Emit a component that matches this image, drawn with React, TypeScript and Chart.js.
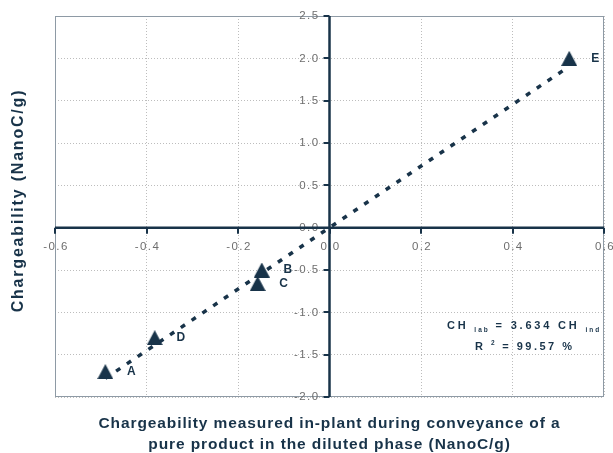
import React, { useEffect, useRef } from 'react';
import { Chart, registerables } from 'chart.js';

Chart.register(...registerables);

// ---- data ----
const pointLabels = ['A', 'B', 'C', 'D', 'E'];
const xValues = [-0.49, -0.148, -0.157, -0.382, 0.524];
const yValues = [-1.7, -0.5, -0.66, -1.3, 2.0];
const trendX = [-0.49, 0.52];
const trendY = [-1.78, 1.89];
const xTickValues = [-0.6, -0.4, -0.2, 0.0, 0.2, 0.4, 0.6];
const yTickValues = [2.5, 2.0, 1.5, 1.0, 0.5, 0.0, -0.5, -1.0, -1.5, -2.0];
const xTitleLines = [
  'Chargeability measured in-plant during conveyance of a',
  'pure product in the diluted phase (NanoC/g)',
];
const yTitle = 'Chargeability (NanoC/g)';
const slopeText = '3.634';
const r2Text = '99.57 %';

const NAVY = '#183349';
const FONT = '"Liberation Sans", Arial, Helvetica, sans-serif';

type Seg = { t: string; size: number; dy: number; ls: number };

function drawSegs(ctx: CanvasRenderingContext2D, segs: Seg[], x: number, baseline: number) {
  let cx = x;
  for (const s of segs) {
    ctx.font = `bold ${s.size}px ${FONT}`;
    (ctx as any).letterSpacing = `${s.ls}px`;
    ctx.textAlign = 'left';
    ctx.textBaseline = 'alphabetic';
    ctx.fillText(s.t, cx, baseline + s.dy);
    cx += ctx.measureText(s.t).width;
  }
}

const decorPlugin = {
  id: 'decor',
  beforeDatasetsDraw(chart: any) {
    const { ctx, chartArea: a, scales } = chart;
    const xs = scales.x;
    const ys = scales.y;
    const x0 = xs.getPixelForValue(0);
    const y0 = ys.getPixelForValue(0);
    ctx.save();
    // plot border
    ctx.strokeStyle = '#8e9aa5';
    ctx.lineWidth = 1;
    ctx.setLineDash([]);
    ctx.strokeRect(a.left + 0.5, a.top + 0.5, a.right - a.left - 1, a.bottom - a.top - 1);

    // tick labels
    ctx.fillStyle = '#6e6e6e';
    ctx.font = `11.5px ${FONT}`;
    (ctx as any).letterSpacing = '1.4px';
    ctx.textAlign = 'center';
    ctx.textBaseline = 'middle';
    for (const v of xTickValues) {
      const px = xs.getPixelForValue(v);
      ctx.fillText(v.toFixed(1), px + 1, y0 + 19);
    }
    ctx.textAlign = 'right';
    for (const v of yTickValues) {
      const py = ys.getPixelForValue(v);
      ctx.fillText(v.toFixed(1), x0 - 10, py);
    }

    // axes
    ctx.strokeStyle = NAVY;
    ctx.lineWidth = 2.5;
    ctx.beginPath();
    ctx.moveTo(a.left, y0);
    ctx.lineTo(a.right, y0);
    ctx.stroke();
    ctx.beginPath();
    ctx.moveTo(x0, a.top);
    ctx.lineTo(x0, a.bottom);
    ctx.stroke();
    ctx.lineWidth = 2;
    for (const v of xTickValues) {
      const px = Math.round(xs.getPixelForValue(v));
      ctx.beginPath();
      ctx.moveTo(px, y0);
      ctx.lineTo(px, y0 + 6);
      ctx.stroke();
    }
    for (const v of yTickValues) {
      const py = Math.round(ys.getPixelForValue(v));
      ctx.beginPath();
      ctx.moveTo(x0 - 6, py);
      ctx.lineTo(x0, py);
      ctx.stroke();
    }
    ctx.restore();
  },
  afterDatasetsDraw(chart: any) {
    const { ctx, chartArea: a } = chart;
    ctx.save();
    ctx.fillStyle = NAVY;
    // point labels
    const meta = chart.getDatasetMeta(0);
    ctx.font = `bold 12px ${FONT}`;
    (ctx as any).letterSpacing = '0px';
    ctx.textAlign = 'center';
    ctx.textBaseline = 'middle';
    meta.data.forEach((el: any, i: number) => {
      ctx.fillText(pointLabels[i], el.x + 26, el.y);
    });

    // equation annotation
    drawSegs(
      ctx,
      [
        { t: 'CH ', size: 11, dy: 0, ls: 2.8 },
        { t: 'lab', size: 6.5, dy: 3, ls: 2 },
        { t: ` = ${slopeText} CH `, size: 11, dy: 0, ls: 2.8 },
        { t: 'ind', size: 6.5, dy: 3, ls: 2 },
      ],
      a.right - 157,
      a.top + 313
    );
    drawSegs(
      ctx,
      [
        { t: 'R ', size: 11, dy: 0, ls: 2.5 },
        { t: '2', size: 6.5, dy: -5, ls: 2 },
        { t: ` = ${r2Text}`, size: 11, dy: 0, ls: 2.5 },
      ],
      a.right - 129,
      a.top + 334
    );

    // axis titles
    const cxMid = (a.left + a.right) / 2;
    ctx.font = `bold 15.5px ${FONT}`;
    (ctx as any).letterSpacing = '0.9px';
    ctx.textAlign = 'center';
    ctx.textBaseline = 'alphabetic';
    ctx.fillText(xTitleLines[0], cxMid, a.bottom + 31);
    ctx.fillText(xTitleLines[1], cxMid, a.bottom + 52);

    ctx.translate(19, (a.top + a.bottom) / 2 - 6);
    ctx.rotate(-Math.PI / 2);
    ctx.textBaseline = 'middle';
    ctx.font = `bold 16px ${FONT}`;
    (ctx as any).letterSpacing = '1.8px';
    ctx.fillText(yTitle, 0, 0);
    ctx.restore();
  },
};

export default function App() {
  const ref = useRef<HTMLCanvasElement>(null);
  useEffect(() => {
    const canvas = ref.current;
    if (!canvas) return;
    const tri = document.createElement('canvas');
    tri.width = 16;
    tri.height = 15;
    const tc = tri.getContext('2d')!;
    tc.fillStyle = NAVY;
    tc.beginPath();
    tc.moveTo(8, 0);
    tc.lineTo(16, 15);
    tc.lineTo(0, 15);
    tc.closePath();
    tc.fill();

    const chart = new Chart(canvas, {
      type: 'scatter',
      data: {
        datasets: [
          {
            label: 'Points',
            data: xValues.map((x, i) => ({ x, y: yValues[i] })),
            pointStyle: tri as any,
            pointRadius: 8,
            backgroundColor: NAVY,
            borderColor: NAVY,
            order: 1,
          },
          {
            label: 'Trend',
            type: 'line',
            data: trendX.map((x, i) => ({ x, y: trendY[i] })),
            showLine: true,
            borderColor: NAVY,
            borderWidth: 3.5,
            borderDash: [5, 8],
            pointRadius: 0,
            fill: false,
            order: 2,
          } as any,
        ],
      },
      options: {
        responsive: false,
        animation: false,
        devicePixelRatio: 1,
        layout: { padding: { left: 55, right: 8, top: 16, bottom: 56 } },
        plugins: { legend: { display: false }, tooltip: { enabled: false } },
        scales: {
          x: {
            type: 'linear',
            min: -0.6,
            max: 0.6,
            afterBuildTicks: (s: any) => {
              s.ticks = xTickValues.map((v) => ({ value: v }));
            },
            ticks: { display: false },
            grid: { color: '#bdbdbd', lineWidth: 1, drawTicks: false },
            border: { display: false, dash: [1, 2] },
          },
          y: {
            type: 'linear',
            min: -2.0,
            max: 2.5,
            afterBuildTicks: (s: any) => {
              s.ticks = yTickValues.map((v) => ({ value: v }));
            },
            ticks: { display: false },
            grid: { color: '#bdbdbd', lineWidth: 1, drawTicks: false },
            border: { display: false, dash: [1, 2] },
          },
        },
      },
      plugins: [decorPlugin],
    });
    return () => chart.destroy();
  }, []);
  return (
    <div style={{ position: 'fixed', left: 0, top: 0, width: 613, height: 453, background: '#fff' }}>
      <canvas ref={ref} width={613} height={453} style={{ display: 'block', width: 613, height: 453 }} />
    </div>
  );
}
